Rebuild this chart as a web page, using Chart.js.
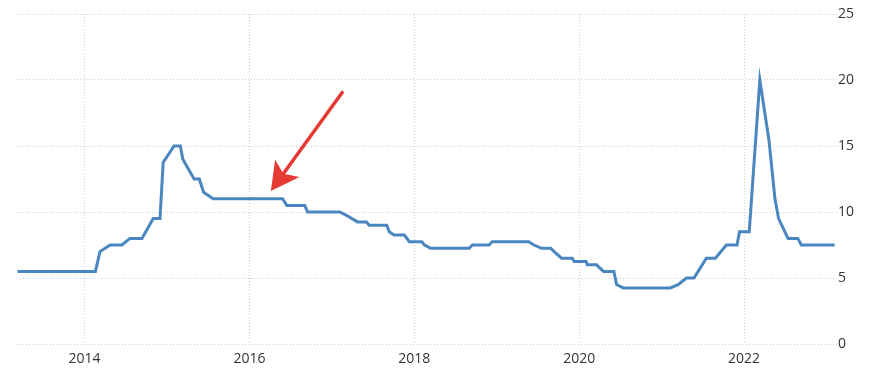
<!DOCTYPE html>
<html>
<head>
<meta charset="utf-8">
<script src="https://cdn.jsdelivr.net/npm/chart.js@4"></script>
<style>
    html, body { margin: 0; padding: 0; background: #fff; }
    #wrap { width: 888px; height: 381px; }
</style>
</head>
<body>
<div id="wrap"><canvas id="rateChart"></canvas></div>
<script>
// turning points of the series
const dates = [
    '2013-03-10', '2014-02-18', '2014-03-10', '2014-04-24', '2014-06-15', '2014-07-21',
    '2014-09-12', '2014-11-01', '2014-12-01', '2014-12-15', '2015-02-01', '2015-03-01',
    '2015-03-12', '2015-05-01', '2015-05-24', '2015-06-12', '2015-07-24', '2016-05-27',
    '2016-06-15', '2016-09-03', '2016-09-15', '2017-02-05', '2017-03-06', '2017-04-24',
    '2017-06-03', '2017-06-15', '2017-09-01', '2017-09-12', '2017-10-03', '2017-11-18',
    '2017-12-10', '2018-02-03', '2018-02-15', '2018-03-15', '2018-09-01', '2018-09-15',
    '2018-11-28', '2018-12-12', '2019-05-22', '2019-06-15', '2019-07-18', '2019-08-28',
    '2019-09-12', '2019-10-15', '2019-12-01', '2019-12-10', '2020-02-01', '2020-02-06',
    '2020-03-18', '2020-04-18', '2020-06-03', '2020-06-15', '2020-07-15', '2021-02-09',
    '2021-03-15', '2021-04-21', '2021-05-24', '2021-06-12', '2021-07-18', '2021-08-27',
    '2021-10-15', '2021-12-01', '2021-12-12', '2022-01-24', '2022-03-12', '2022-04-21',
    '2022-05-18', '2022-06-03', '2022-07-15', '2022-08-27', '2022-09-12', '2023-02-06'
];
const rates = [
    5.5, 5.5, 7.0, 7.5, 7.5, 8.0,
    8.0, 9.5, 9.5, 13.75, 15, 15,
    14, 12.5, 12.5, 11.5, 11, 11,
    10.5, 10.5, 10, 10, 9.75, 9.25,
    9.25, 9, 9, 8.5, 8.25, 8.25,
    7.75, 7.75, 7.5, 7.25, 7.25, 7.5,
    7.5, 7.75, 7.75, 7.5, 7.25, 7.25,
    7.0, 6.5, 6.5, 6.25, 6.25, 6.0,
    6.0, 5.5, 5.5, 4.5, 4.25, 4.25,
    4.5, 5.0, 5.0, 5.5, 6.5, 6.5,
    7.5, 7.5, 8.5, 8.5, 20, 15.5,
    11, 9.5, 8.0, 8.0, 7.5, 7.5
];

const xTicks = [2014, 2016, 2018, 2020, 2022];
const yTicks = [0, 5, 10, 15, 20, 25];
const xRange = [2013.18, 2023.14];

// red arrow annotation, in data units
const arrowFrom = { x: 2017.125, y: 19.06 };
const arrowTo = { x: 2016.26, y: 11.6 };

function toYear(s) {
    const d = new Date(s + 'T00:00:00Z');
    const y = d.getUTCFullYear();
    const start = Date.UTC(y, 0, 1);
    const end = Date.UTC(y + 1, 0, 1);
    return y + (d.getTime() - start) / (end - start);
}

const points = dates.map((d, i) => ({ x: toYear(d), y: rates[i] }));

const arrowPlugin = {
    id: 'arrow',
    afterDatasetsDraw(chart) {
        const { ctx, scales } = chart;
        const x1 = scales.x.getPixelForValue(arrowFrom.x);
        const y1 = scales.y.getPixelForValue(arrowFrom.y);
        const x2 = scales.x.getPixelForValue(arrowTo.x);
        const y2 = scales.y.getPixelForValue(arrowTo.y);
        const len = Math.hypot(x2 - x1, y2 - y1);
        const ux = (x2 - x1) / len, uy = (y2 - y1) / len;
        const nx = -uy, ny = ux;
        const headLen = 28, headW = 15, notch = 13;

        ctx.save();
        ctx.strokeStyle = '#e53a33';
        ctx.fillStyle = '#e53a33';
        ctx.lineWidth = 3.5;
        ctx.lineCap = 'round';
        ctx.beginPath();
        ctx.moveTo(x1, y1);
        ctx.lineTo(x2 - ux * (notch + 2), y2 - uy * (notch + 2));
        ctx.stroke();

        ctx.beginPath();
        ctx.moveTo(x2, y2);
        ctx.lineTo(x2 - ux * headLen + nx * headW, y2 - uy * headLen + ny * headW);
        ctx.lineTo(x2 - ux * (headLen - notch + 6), y2 - uy * (headLen - notch + 6));
        ctx.lineTo(x2 - ux * headLen - nx * headW, y2 - uy * headLen - ny * headW);
        ctx.closePath();
        ctx.fill();
        ctx.restore();
    }
};

const tickFont = { family: '"Open Sans", "Noto Sans", sans-serif', size: 14 };

new Chart(document.getElementById('rateChart'), {
    type: 'line',
    data: {
        datasets: [{
            data: points,
            borderColor: '#4a86bf',
            borderWidth: 3,
            pointRadius: 0,
            tension: 0,
            fill: false
        }]
    },
    options: {
        responsive: true,
        maintainAspectRatio: false,
        animation: false,
        layout: { padding: { left: 17, top: 14, right: 0, bottom: 0 } },
        plugins: {
            legend: { display: false },
            tooltip: { enabled: false }
        },
        scales: {
            x: {
                type: 'linear',
                min: xRange[0],
                max: xRange[1],
                afterBuildTicks: scale => { scale.ticks = xTicks.map(v => ({ value: v })); },
                afterFit: scale => { scale.height = 37; },
                grid: {
                    color: '#cfcfcf',
                    lineWidth: 1,
                    drawTicks: false
                },
                border: { display: false, dash: [1, 2] },
                ticks: {
                    color: '#333',
                    font: tickFont,
                    padding: 7,
                    maxRotation: 0,
                    callback: v => String(v)
                }
            },
            y: {
                position: 'right',
                min: 0,
                max: 25,
                afterBuildTicks: scale => { scale.ticks = yTicks.map(v => ({ value: v })); },
                afterFit: scale => { scale.width = 50; },
                grid: {
                    color: '#cfcfcf',
                    lineWidth: 1,
                    drawTicks: false
                },
                border: { display: false, dash: [1, 2] },
                ticks: {
                    color: '#333',
                    font: tickFont,
                    padding: 0
                }
            }
        }
    },
    plugins: [arrowPlugin]
});
</script>
</body>
</html>
